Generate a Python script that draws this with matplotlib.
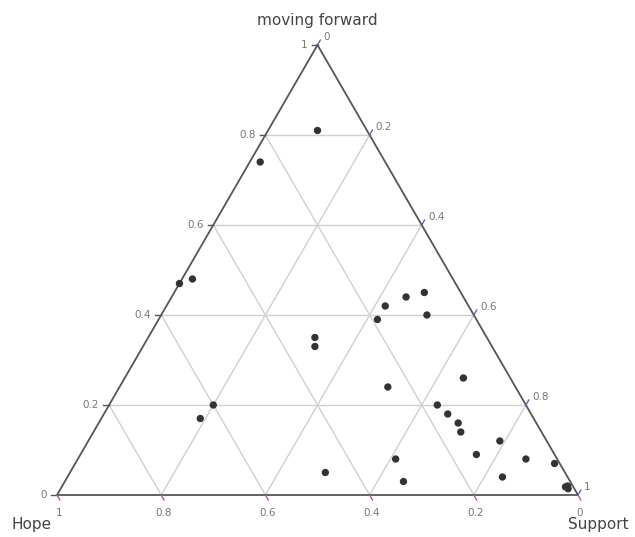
import numpy as np
import matplotlib
matplotlib.use("Agg")
import matplotlib.pyplot as plt

# Ternary data: a = moving forward, b = Hope, c = Support
moving_forward = [0.81, 0.74, 0.48, 0.47, 0.35, 0.33, 0.42, 0.44, 0.45, 0.39,
                  0.40, 0.26, 0.24, 0.20, 0.17, 0.20, 0.18, 0.16, 0.14, 0.12,
                  0.09, 0.08, 0.07, 0.04, 0.03, 0.08, 0.05, 0.018, 0.014, 0.02]
hope = [0.095, 0.24, 0.50, 0.53, 0.33, 0.34, 0.16, 0.11, 0.07, 0.19,
        0.09, 0.09, 0.245, 0.60, 0.64, 0.17, 0.16, 0.15, 0.155, 0.09,
        0.15, 0.06, 0.01, 0.125, 0.32, 0.31, 0.46, 0.015, 0.012, 0.01]
support = [0.095, 0.02, 0.02, 0.0, 0.32, 0.33, 0.42, 0.45, 0.48, 0.42,
           0.51, 0.65, 0.515, 0.20, 0.19, 0.63, 0.66, 0.69, 0.705, 0.79,
           0.76, 0.86, 0.92, 0.835, 0.65, 0.61, 0.49, 0.967, 0.974, 0.97]
tick_vals = [0, 0.2, 0.4, 0.6, 0.8, 1]
tick_labels = ["0", "0.2", "0.4", "0.6", "0.8", "1"]
title_a, title_b, title_c = "moving forward", "Hope", "Support"

H = np.sqrt(3) / 2


def tern(a, b, c):
    a = np.asarray(a, float); b = np.asarray(b, float); c = np.asarray(c, float)
    s = a + b + c
    a, c = a / s, c / s
    return c + a / 2, a * H


fig = plt.figure(figsize=(6.35, 5.37), dpi=100)
ax = fig.add_axes([0, 0, 1, 1])
ax.set_xlim(-57 / 521, 578 / 521)
ax.set_ylim(-42 / 450 * H, 495 / 450 * H)
ax.axis("off")

grid_col = "#d0d0d0"
for k in [0.2, 0.4, 0.6, 0.8]:
    # a = k
    x, y = tern([k, k], [1 - k, 0], [0, 1 - k])
    ax.plot(x, y, color=grid_col, lw=1.0, zorder=1)
    # b = k
    x, y = tern([1 - k, 0], [k, k], [0, 1 - k])
    ax.plot(x, y, color=grid_col, lw=1.0, zorder=1)
    # c = k
    x, y = tern([1 - k, 0], [0, 1 - k], [k, k])
    ax.plot(x, y, color=grid_col, lw=1.0, zorder=1)

# triangle border
x, y = tern([1, 0, 0, 1], [0, 1, 0, 0], [0, 0, 1, 0])
ax.plot(x, y, color="#555555", lw=1.3, zorder=2)

tl = 0.011
lab_col = "#777777"
fs = 7.5
for v, lab in zip(tick_vals, tick_labels):
    # a axis (left side): horizontal ticks to the left
    x0, y0 = tern(v, 1 - v, 0)
    ax.plot([x0, x0 - tl], [y0, y0], color="#555555", lw=1, zorder=2)
    ax.text(x0 - tl - 0.008, y0, lab, ha="right", va="center",
            fontsize=fs, color=lab_col)
    # b axis (bottom): ticks down-right
    x0, y0 = tern(0, v, 1 - v)
    ax.plot([x0, x0 + tl * 0.5], [y0, y0 - tl * H], color="#c9566b", lw=1, zorder=2)
    ax.text(x0 + 0.004, y0 - 0.025, lab, ha="center", va="top",
            fontsize=fs, color=lab_col)
    # c axis (right side): ticks up-right
    x0, y0 = tern(1 - v, 0, v)
    ax.plot([x0, x0 + tl * 0.5], [y0, y0 + tl * H], color="#6a5fb5", lw=1, zorder=2)
    ax.text(x0 + 0.012, y0 + 0.006, lab, ha="left", va="bottom",
            fontsize=fs, color=lab_col)

xp, yp = tern(moving_forward, hope, support)
ax.scatter(xp, yp, s=28, color="#333333", edgecolors="none", zorder=3)

tfs = 11
ax.text(0.5, 495 / 450 * H - 20 / 450 * H, title_a, ha="center", va="center",
        fontsize=tfs, color="#444444")
ax.text((32 - 57) / 521, (495 - 525) / 450 * H, title_b, ha="center", va="center",
        fontsize=tfs, color="#444444")
ax.text((598 - 57) / 521, (495 - 525) / 450 * H, title_c, ha="center", va="center",
        fontsize=tfs, color="#444444")

fig.savefig("out.png", dpi=100)
